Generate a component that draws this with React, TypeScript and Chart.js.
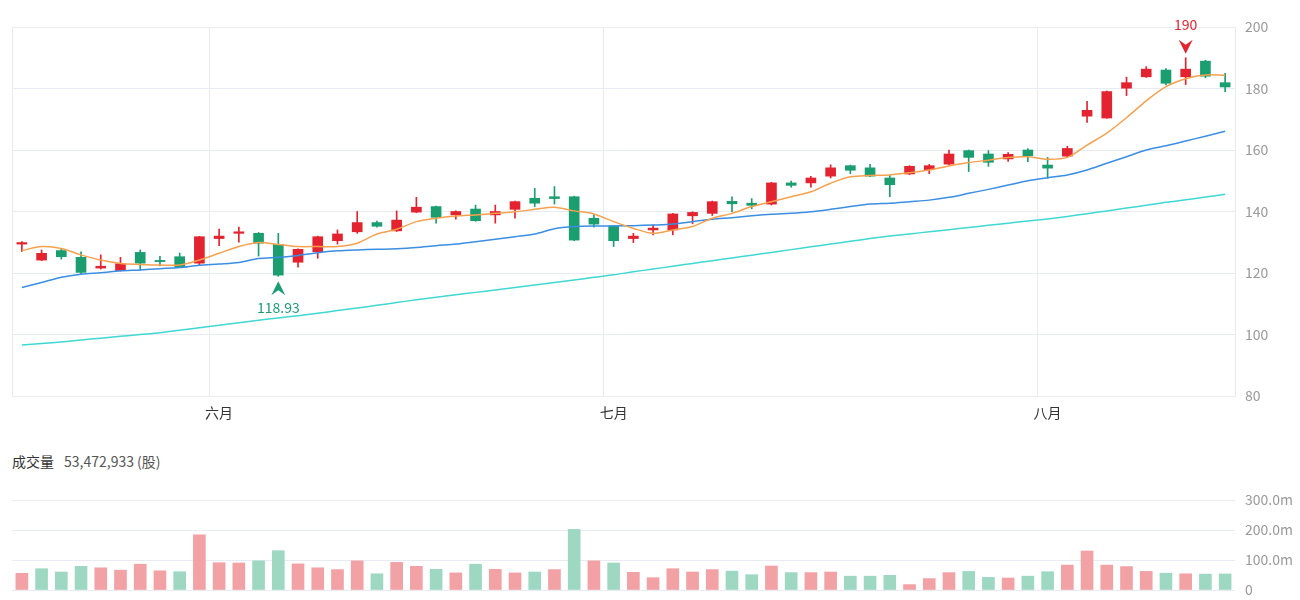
import React, { useEffect, useRef } from 'react';
import { Chart, registerables } from 'chart.js';

Chart.register(...registerables);

// ---------- data ----------
const dates = [
  '2024-05-20', '2024-05-21', '2024-05-22', '2024-05-23', '2024-05-24', '2024-05-27', '2024-05-28', '2024-05-29', '2024-05-30', '2024-05-31',
  '2024-06-03', '2024-06-04', '2024-06-05', '2024-06-06', '2024-06-07', '2024-06-10', '2024-06-11', '2024-06-12', '2024-06-13', '2024-06-14',
  '2024-06-17', '2024-06-18', '2024-06-19', '2024-06-20', '2024-06-21', '2024-06-24', '2024-06-25', '2024-06-26', '2024-06-27', '2024-06-28',
  '2024-07-01', '2024-07-02', '2024-07-03', '2024-07-05', '2024-07-08', '2024-07-09', '2024-07-10', '2024-07-11', '2024-07-12', '2024-07-15',
  '2024-07-16', '2024-07-17', '2024-07-18', '2024-07-19', '2024-07-22', '2024-07-23', '2024-07-24', '2024-07-25', '2024-07-26', '2024-07-29',
  '2024-07-30', '2024-07-31', '2024-08-01', '2024-08-02', '2024-08-05', '2024-08-06', '2024-08-07', '2024-08-08', '2024-08-09', '2024-08-12',
  '2024-08-13', '2024-08-14',
];

const opens = [
  129.4, 124.2, 127.3, 125.1, 121.6, 120.8, 126.7, 124.1, 125.3, 123.2,
  131.2, 132.9, 132.9, 129.3, 123.5, 126.9, 130.5, 133.4, 136.4, 133.7,
  139.8, 141.6, 138.9, 140.8, 138.9, 140.7, 144.3, 144.8, 144.8, 137.8,
  135.3, 131.2, 134.0, 134.0, 138.6, 139.4, 143.3, 142.7, 142.4, 149.3,
  149.3, 151.5, 154.9, 154.2, 150.9, 152.2, 153.6, 155.4, 159.8, 158.7,
  157.1, 160.0, 155.1, 158.0, 171.0, 170.4, 180.1, 183.8, 186.0, 183.8,
  188.9, 181.9,
];
const highs = [
  130.2, 127.5, 128.0, 126.9, 125.9, 125.1, 127.5, 125.4, 126.5, 131.9,
  134.3, 134.9, 133.2, 132.9, 127.9, 132.0, 134.0, 140.0, 136.9, 140.2,
  144.6, 141.8, 140.2, 142.1, 142.1, 143.4, 147.5, 148.1, 145.0, 138.9,
  135.5, 132.9, 135.6, 139.4, 139.9, 143.4, 144.8, 144.2, 149.5, 149.9,
  151.4, 155.2, 155.1, 155.3, 151.7, 154.9, 155.3, 160.0, 160.0, 159.8,
  159.2, 160.5, 157.6, 161.2, 175.8, 179.2, 183.7, 187.1, 186.5, 190,
  189.2, 184.9,
];
const lows = [
  127.0, 124.0, 124.5, 119.6, 121.3, 120.6, 121.0, 122.3, 121.8, 122.6,
  128.9, 130.0, 125.5, 118.93, 121.9, 124.8, 129.4, 132.9, 134.9, 133.5,
  139.6, 136.2, 137.5, 136.8, 136.2, 137.8, 141.6, 142.4, 130.5, 134.9,
  128.6, 129.9, 132.4, 132.4, 136.0, 138.7, 139.9, 140.9, 142.1, 147.9,
  147.9, 150.9, 152.3, 151.3, 144.8, 152.0, 152.3, 155.2, 153.0, 154.7,
  156.3, 156.2, 150.8, 157.7, 169.0, 170.3, 177.7, 183.6, 181.2, 181.3,
  183.5, 179.0,
];
const closes = [
  129.9, 126.4, 125.3, 120.2, 122.2, 123.0, 123.2, 123.7, 121.9, 131.8,
  132.0, 133.4, 129.7, 119.3, 127.7, 131.8, 132.7, 136.4, 135.2, 137.2,
  141.4, 138.1, 140.0, 137.0, 140.0, 143.2, 142.7, 144.2, 130.7, 135.9,
  130.5, 132.0, 134.6, 139.2, 139.7, 143.2, 142.5, 142.0, 149.3, 148.5,
  150.9, 154.2, 153.4, 151.5, 148.7, 154.7, 154.9, 158.7, 157.6, 156.0,
  158.6, 158.1, 154.1, 160.5, 172.9, 179.0, 181.9, 186.3, 181.7, 186.3,
  184.0, 180.5,
];
const volumes = [
  55_600_000, 71_000_000, 60_000_000, 79_000_000, 74_000_000, 66_000_000, 86_000_000, 64_000_000, 61_000_000, 184_000_000,
  91_000_000, 90_000_000, 97_000_000, 131_000_000, 87_000_000, 74_000_000, 68_000_000, 97_000_000, 54_000_000, 92_000_000,
  79_000_000, 69_000_000, 57_000_000, 86_000_000, 69_000_000, 57_000_000, 60_000_000, 68_000_000, 202_000_000, 97_000_000,
  90_000_000, 59_000_000, 41_000_000, 71_000_000, 60_000_000, 68_000_000, 63_000_000, 51_000_000, 80_000_000, 58_000_000,
  58_000_000, 60_000_000, 46_000_000, 46_000_000, 49_000_000, 18_000_000, 38_000_000, 58_000_000, 62_000_000, 42_000_000,
  40_000_000, 46_000_000, 61_000_000, 83_000_000, 130_000_000, 83_000_000, 78_000_000, 62_000_000, 56_000_000, 54_000_000,
  53_000_000, 53_472_933,
];
const ma5 = [
  127.3, 128.6, 128.0, 125.9, 124.2, 123.1, 122.8, 122.6, 122.6, 124.2,
  126.4, 128.6, 129.9, 129.3, 128.6, 128.6, 128.6, 129.7, 132.7, 134.2,
  136.7, 137.8, 138.5, 138.9, 139.4, 139.9, 140.7, 141.4, 140.2, 139.2,
  136.7, 134.5, 132.9, 134.0, 135.1, 137.8, 139.4, 141.6, 143.2, 144.8,
  146.4, 149.2, 151.3, 151.7, 151.9, 152.6, 153.5, 154.8, 155.9, 156.7,
  157.6, 157.8, 157.0, 157.6, 161.6, 165.5, 170.5, 176.0, 180.6, 183.2,
  184.4, 184.3,
];
const ma20 = [
  115.3, 116.9, 118.6, 119.6, 120.1, 120.7, 121.0, 121.4, 121.8, 122.5,
  122.9, 123.4, 124.7, 125.1, 125.7, 126.6, 127.2, 127.5, 127.7, 127.9,
  128.3, 128.9, 129.4, 130.2, 131.0, 131.8, 132.7, 134.4, 135.1, 135.3,
  135.3, 135.4, 135.6, 135.9, 136.7, 137.5, 138.0, 138.6, 139.1, 139.4,
  139.9, 140.7, 141.6, 142.4, 142.7, 143.2, 143.7, 144.6, 145.9, 147.2,
  148.6, 150.0, 151.0, 151.9, 153.5, 155.7, 157.8, 160.0, 161.4, 162.9,
  164.5, 166.1,
];
const ma60 = [
  96.6, 97.1, 97.6, 98.2, 98.8, 99.4, 100.0, 100.6, 101.4, 102.2,
  103.0, 103.8, 104.6, 105.4, 106.1, 106.9, 107.8, 108.6, 109.5, 110.4,
  111.3, 112.1, 112.9, 113.7, 114.5, 115.3, 116.1, 116.9, 117.7, 118.6,
  119.4, 120.4, 121.3, 122.2, 123.1, 124.0, 124.9, 125.8, 126.7, 127.6,
  128.5, 129.4, 130.3, 131.2, 132.0, 132.7, 133.4, 134.1, 134.8, 135.5,
  136.2, 136.9, 137.6, 138.4, 139.3, 140.2, 141.1, 142.0, 143.0, 143.8,
  144.7, 145.6,
];
const monthNames = ['一月', '二月', '三月', '四月', '五月', '六月', '七月', '八月', '九月', '十月', '十一月', '十二月'];
const priceTicks = { min: 80, max: 200, step: 20 };
const volumeTicks = { min: 0, max: 300_000_000, step: 100_000_000 };
const volumeTitle = '成交量';
const volumeUnit = '(股)';

// ---------- styles ----------
const RED = '#e3232f';
const GREEN = '#1b9e6f';
const VOL_RED = '#f2a1a5';
const VOL_GREEN = '#9ed8c3';
const GRID = '#e8ebf2';
const MA5_COLOR = '#f5a14e';
const MA20_COLOR = '#3a8ee3';
const MA60_COLOR = '#3fd8d2';
const FONT = "'Noto Sans CJK SC', 'Noto Sans', sans-serif";

const candleColor = (i: number) => (closes[i] >= opens[i] ? RED : GREEN);
const volumeColor = (i: number) =>
  (i === 0 ? closes[0] >= opens[0] : closes[i] >= closes[i - 1]) ? VOL_RED : VOL_GREEN;

function monthLabel(i: number): string {
  if (i <= 0 || i >= dates.length) return '';
  const m = dates[i].slice(5, 7);
  const pm = dates[i - 1].slice(5, 7);
  return m !== pm ? monthNames[parseInt(m, 10) - 1] : '';
}

function drawArrow(ctx: CanvasRenderingContext2D, x: number, tipY: number, dir: number, color: string) {
  // dir = 1 : pointing down, dir = -1 : pointing up
  ctx.beginPath();
  ctx.moveTo(x, tipY);
  ctx.lineTo(x - 7, tipY - dir * 14);
  ctx.lineTo(x, tipY - dir * 9);
  ctx.lineTo(x + 7, tipY - dir * 14);
  ctx.closePath();
  ctx.fillStyle = color;
  ctx.fill();
}

const extremesPlugin = {
  id: 'extremes',
  afterDatasetsDraw(chart: any) {
    const { ctx, scales } = chart;
    const x = scales.x;
    const y = scales.y;
    const maxV = Math.max(...highs);
    const maxI = highs.indexOf(maxV);
    const minV = Math.min(...lows);
    const minI = lows.indexOf(minV);
    ctx.save();
    ctx.font = `14px ${FONT}`;
    ctx.textAlign = 'center';
    ctx.textBaseline = 'middle';

    const mx = x.getPixelForValue(maxI);
    const my = y.getPixelForValue(maxV);
    drawArrow(ctx, mx, my - 4, 1, RED);
    ctx.fillStyle = RED;
    ctx.fillText(String(maxV), mx, my - 33);

    const nx = x.getPixelForValue(minI);
    const ny = y.getPixelForValue(minV);
    drawArrow(ctx, nx, ny + 5, -1, GREEN);
    ctx.fillStyle = GREEN;
    ctx.fillText(String(minV), nx, ny + 31);
    ctx.restore();
  },
};

function PriceChart() {
  const ref = useRef<HTMLCanvasElement>(null);
  useEffect(() => {
    if (!ref.current) return;
    const chart = new Chart(ref.current, {
      type: 'bar',
      data: {
        labels: dates,
        datasets: [
          {
            type: 'line',
            label: 'MA5',
            data: ma5,
            borderColor: MA5_COLOR,
            borderWidth: 1.5,
            pointRadius: 0,
            tension: 0.3,
            order: 0,
          } as any,
          {
            type: 'line',
            label: 'MA20',
            data: ma20,
            borderColor: MA20_COLOR,
            borderWidth: 1.5,
            pointRadius: 0,
            tension: 0.3,
            order: 0,
          } as any,
          {
            type: 'line',
            label: 'MA60',
            data: ma60,
            borderColor: MA60_COLOR,
            borderWidth: 1.5,
            pointRadius: 0,
            tension: 0.3,
            order: 0,
          } as any,
          {
            type: 'bar',
            label: 'body',
            data: opens.map((o, i) => [o, closes[i]]),
            backgroundColor: opens.map((_, i) => candleColor(i)),
            barThickness: 10,
            minBarLength: 1,
            grouped: false,
            borderWidth: 0,
            order: 1,
          } as any,
          {
            type: 'bar',
            label: 'wick',
            data: lows.map((l, i) => [l, highs[i]]),
            backgroundColor: lows.map((_, i) => candleColor(i)),
            barThickness: 1,
            grouped: false,
            borderWidth: 0,
            order: 2,
          } as any,
        ],
      },
      options: {
        responsive: false,
        animation: false,
        layout: { padding: { left: 12, top: 27, right: 0, bottom: 0 } },
        plugins: { legend: { display: false }, tooltip: { enabled: false } },
        scales: {
          x: {
            type: 'category',
            offset: true,
            grid: {
              offset: true,
              drawTicks: false,
              color: (c: any) =>
                c.type === 'tick' && (c.index === 0 || monthLabel(c.index)) ? GRID : 'rgba(0,0,0,0)',
            },
            border: { color: GRID },
            ticks: {
              autoSkip: false,
              maxRotation: 0,
              minRotation: 0,
              padding: 8,
              color: '#333333',
              font: { size: 14, family: FONT },
              callback: (_v: any, i: number) => monthLabel(i),
            },
            afterFit: (s: any) => {
              s.height = 34;
            },
          },
          y: {
            position: 'right',
            min: priceTicks.min,
            max: priceTicks.max,
            ticks: {
              stepSize: priceTicks.step,
              padding: 10,
              color: '#999999',
              font: { size: 14, family: FONT },
            },
            grid: { drawTicks: false, color: GRID },
            border: { color: GRID },
            afterFit: (s: any) => {
              s.width = 65;
            },
          },
        },
      } as any,
      plugins: [extremesPlugin],
    });
    return () => chart.destroy();
  }, []);
  return <canvas ref={ref} width={1300} height={430} style={{ position: 'absolute', left: 0, top: 0 }} />;
}

function VolumeChart() {
  const ref = useRef<HTMLCanvasElement>(null);
  useEffect(() => {
    if (!ref.current) return;
    const chart = new Chart(ref.current, {
      type: 'bar',
      data: {
        labels: dates,
        datasets: [
          {
            label: 'volume',
            data: volumes,
            backgroundColor: volumes.map((_, i) => volumeColor(i)),
            barThickness: 12,
            borderWidth: 0,
          },
        ],
      },
      options: {
        responsive: false,
        animation: false,
        layout: { padding: { left: 12, top: 20, right: 0, bottom: 20 } },
        plugins: { legend: { display: false }, tooltip: { enabled: false } },
        scales: {
          x: {
            display: false,
            offset: true,
          },
          y: {
            position: 'right',
            min: volumeTicks.min,
            max: volumeTicks.max,
            ticks: {
              stepSize: volumeTicks.step,
              padding: 10,
              color: '#999999',
              font: { size: 14, family: FONT },
              callback: (v: any) => (Number(v) === 0 ? '0' : (Number(v) / 1e6).toFixed(1) + 'm'),
            },
            grid: { drawTicks: false, color: GRID },
            border: { display: false },
            afterFit: (s: any) => {
              s.width = 65;
            },
          },
        },
      } as any,
    });
    return () => chart.destroy();
  }, []);
  return <canvas ref={ref} width={1300} height={130} style={{ position: 'absolute', left: 0, top: 480 }} />;
}

export default function App() {
  const lastVolume = volumes[volumes.length - 1];
  return (
    <div
      style={{
        position: 'fixed',
        left: 0,
        top: 0,
        width: 1300,
        height: 600,
        background: '#ffffff',
        overflow: 'hidden',
      }}
    >
      <PriceChart />
      <div
        style={{
          position: 'absolute',
          left: 12,
          top: 451,
          fontFamily: FONT,
          fontSize: 14,
          lineHeight: '20px',
          color: '#333333',
          whiteSpace: 'nowrap',
        }}
      >
        <span>{volumeTitle}</span>
        <span style={{ marginLeft: 10, color: '#555555' }}>
          {lastVolume.toLocaleString('en-US')} {volumeUnit}
        </span>
      </div>
      <VolumeChart />
    </div>
  );
}
